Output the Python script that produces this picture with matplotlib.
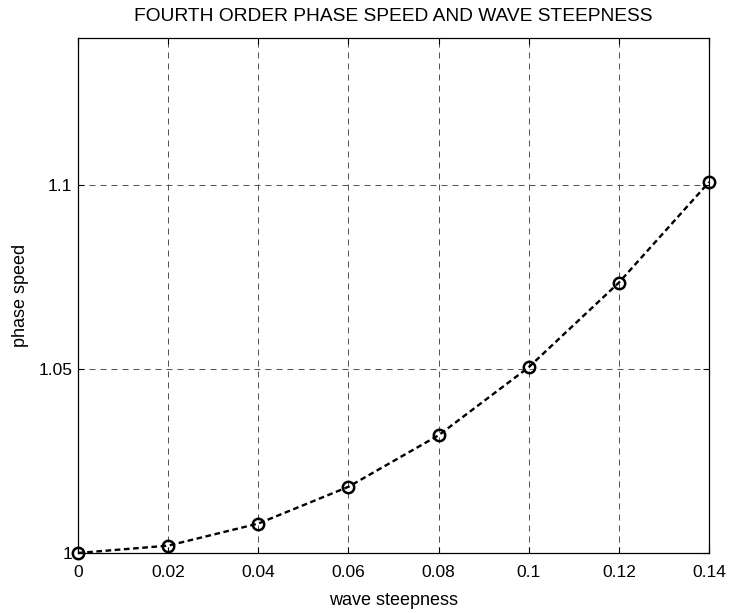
import matplotlib
matplotlib.use("Agg")
import matplotlib.pyplot as plt

steepness = [0.0, 0.02, 0.04, 0.06, 0.08, 0.10, 0.12, 0.14]
phase_speed = [1.0, 1.002, 1.008, 1.018, 1.032, 1.0505, 1.0735, 1.1008]
xticks = [0, 0.02, 0.04, 0.06, 0.08, 0.1, 0.12, 0.14]
xticklabels = ["0", "0.02", "0.04", "0.06", "0.08", "0.1", "0.12", "0.14"]
yticks = [1.0, 1.05, 1.1]
yticklabels = ["1", "1.05", "1.1"]

plt.rcParams['font.family'] = ['Liberation Sans', 'DejaVu Sans']
fs = 12.5
fs_title = 13.75
fs_label = 13.0

fig = plt.figure(figsize=(7.32, 6.13), dpi=100)
ax = fig.add_axes([78/732, 1-553/613, (709-78)/732, (553-38)/613])

ax.plot(steepness, phase_speed, color='black', linestyle=(0, (2.4, 1.5)), linewidth=1.7,
        marker='o', markersize=8.2, markerfacecolor='none', markeredgewidth=1.8,
        markeredgecolor='black', zorder=3, clip_on=False)

ax.set_xlim(0, 0.14)
ax.set_ylim(1.0, 1.14)
ax.set_xticks(xticks)
ax.set_xticklabels(xticklabels)
ax.set_yticks(yticks)
ax.set_yticklabels(yticklabels)
ax.grid(True, color='#555555', linestyle=(0, (6, 5)), linewidth=0.72)
ax.tick_params(axis='x', pad=8.5)
ax.tick_params(axis='y', pad=4)
ax.tick_params(direction='in', length=4, width=0.8, labelsize=fs,
               top=True, right=True, colors='black')
for s in ax.spines.values():
    s.set_linewidth(0.9)

ax.set_title("FOURTH ORDER PHASE SPEED AND WAVE STEEPNESS", fontsize=fs_title, pad=12)
ax.set_xlabel("wave steepness", fontsize=fs_label, labelpad=9)
ax.set_ylabel("phase speed", fontsize=fs_label, labelpad=7)

fig.savefig("out.png", dpi=100)
